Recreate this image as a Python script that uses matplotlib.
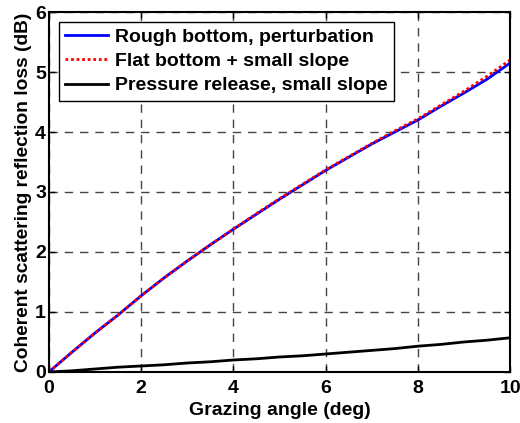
import numpy as np
import matplotlib
matplotlib.use('Agg')
import matplotlib.pyplot as plt

plt.rcParams['font.family'] = ['Liberation Sans', 'DejaVu Sans']
plt.rcParams['font.weight'] = 'bold'

# Data
angle = [0, 0.5, 1, 1.5, 2, 2.5, 3, 3.5, 4, 4.5, 5, 5.5, 6, 6.5, 7, 7.5, 8, 8.5, 9, 9.5, 10]
rough = [0, 0.33, 0.65, 0.95, 1.27, 1.57, 1.85, 2.12, 2.38, 2.63, 2.88, 3.12, 3.36,
         3.58, 3.80, 4.00, 4.20, 4.43, 4.65, 4.88, 5.15]
flat = [0, 0.33, 0.65, 0.95, 1.27, 1.57, 1.85, 2.12, 2.38, 2.64, 2.89, 3.13, 3.37,
        3.59, 3.81, 4.02, 4.22, 4.45, 4.68, 4.93, 5.20]
press = [0, 0.02, 0.05, 0.08, 0.10, 0.12, 0.15, 0.17, 0.20, 0.22, 0.25, 0.27, 0.30,
         0.33, 0.36, 0.39, 0.43, 0.46, 0.50, 0.53, 0.57]

xticks = [0, 2, 4, 6, 8, 10]
yticks = [0, 1, 2, 3, 4, 5, 6]

fig = plt.figure(figsize=(5.2, 4.23), dpi=100)
ax = fig.add_axes([0.094, 0.1206, 0.887, 0.851])

ax.plot(angle, rough, color='blue', lw=2, label='Rough bottom, perturbation')
ax.plot(angle, flat, color='red', lw=2, ls=(0, (1, 1)), label='Flat bottom + small slope')
ax.plot(angle, press, color='black', lw=2, label='Pressure release, small slope')

ax.set_xlim(0, 10)
ax.set_ylim(0, 6)
ax.set_xticks(xticks)
ax.set_yticks(yticks)
ax.tick_params(direction='in', labelsize=14, width=1, length=4, top=True, right=True)
ax.tick_params(axis='x', pad=5.5)
ax.tick_params(axis='y', pad=2)
ax.grid(True, color='#444444', ls=(0, (6, 5)), lw=1)
for s in ax.spines.values():
    s.set_linewidth(1.5)

ax.set_xlabel('Grazing angle (deg)', fontsize=14, fontweight='bold', labelpad=4)
ax.set_ylabel('Coherent scattering reflection loss (dB)', fontsize=13.8, fontweight='bold', labelpad=2)

leg = ax.legend(loc='upper left', fontsize=14, frameon=True, fancybox=False,
                edgecolor='black', framealpha=1, handlelength=2.2,
                borderaxespad=0.5, labelspacing=0.35, handletextpad=0.4,
                borderpad=0.32)
leg.get_frame().set_linewidth(1)

fig.savefig('out.png', dpi=100)
